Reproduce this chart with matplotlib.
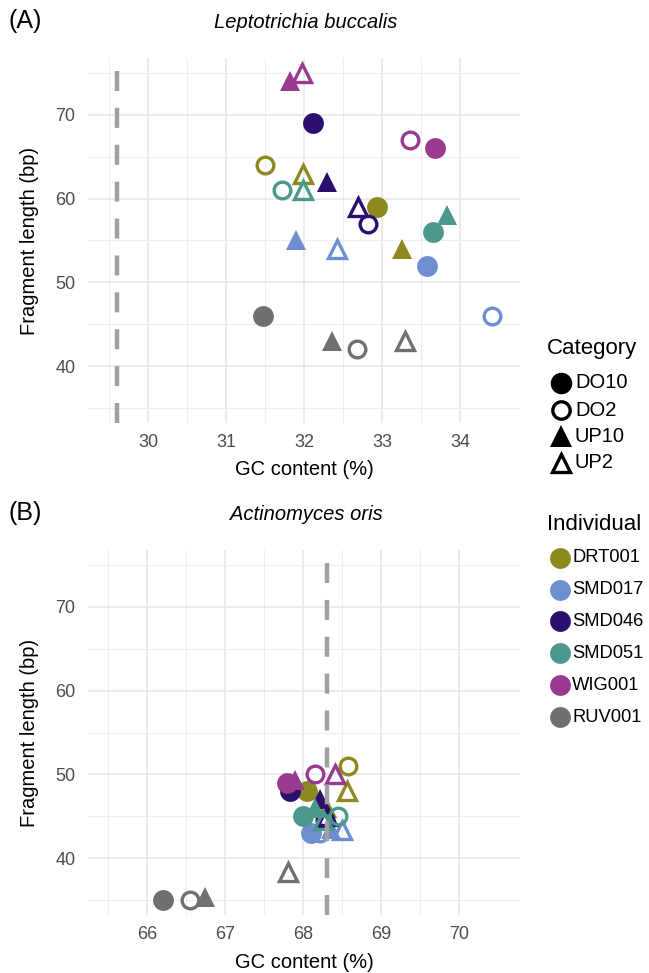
import matplotlib
matplotlib.use("Agg")
import matplotlib.pyplot as plt

plt.rcParams['font.family'] = ['Liberation Sans', 'DejaVu Sans']

individuals = ["DRT001", "SMD017", "SMD046", "SMD051", "WIG001", "RUV001"]
ind_colors = ["#8C8A1E", "#6D8FD0", "#2B0F6E", "#4A998C", "#983A8F", "#707070"]
categories = ["DO10", "DO2", "UP10", "UP2"]

# Panel A: Leptotrichia buccalis  (GC, length) per individual, category order DO10, DO2, UP10, UP2
a_gc = {
    "DRT001": [32.94, 31.50, 33.26, 31.99],
    "SMD017": [33.58, 34.41, 31.90, 32.42],
    "SMD046": [32.12, 32.82, 32.30, 32.69],
    "SMD051": [33.66, 31.72, 33.83, 31.99],
    "WIG001": [33.68, 33.36, 31.82, 31.97],
    "RUV001": [31.48, 32.68, 32.36, 33.30],
}
a_len = {
    "DRT001": [59, 64, 54, 63],
    "SMD017": [52, 46, 55, 54],
    "SMD046": [69, 57, 62, 59],
    "SMD051": [56, 61, 58, 61],
    "WIG001": [66, 67, 74, 75],
    "RUV001": [46, 42, 43, 43],
}
# Panel B: Actinomyces oris
b_gc = {
    "DRT001": [68.05, 68.58, 68.30, 68.56],
    "SMD017": [68.10, 68.22, 68.35, 68.50],
    "SMD046": [67.83, 68.28, 68.22, 68.30],
    "SMD051": [68.00, 68.45, 68.15, 68.25],
    "WIG001": [67.79, 68.15, 67.90, 68.41],
    "RUV001": [66.20, 66.55, 66.74, 67.80],
}
b_len = {
    "DRT001": [48, 51, 46, 48],
    "SMD017": [43, 43, 43.5, 43.3],
    "SMD046": [48, 44.5, 47, 45],
    "SMD051": [45, 45, 46, 44.5],
    "WIG001": [49, 50, 49.3, 50],
    "RUV001": [35, 35, 35.3, 38.3],
}
a_genome_gc = 29.6
b_genome_gc = 68.3
a_xticks = [30, 31, 32, 33, 34]
b_xticks = [66, 67, 68, 69, 70]
yticks = [40, 50, 60, 70]

W, H = 649, 973
fig = plt.figure(figsize=(W / 100, H / 100), dpi=100)

def fx(px):
    return px / W

def fy(py):
    return 1 - py / H

MS = 15.0  # marker size in points
EW = 2.4
TXT = 14.5


def draw_point(ax, x, y, cat, color, z, ms=MS):
    if cat == "DO10":
        ax.plot(x, y, marker='o', ms=ms, mfc=color, mec=color, mew=0, ls='none', zorder=z)
    elif cat == "DO2":
        ax.plot(x, y, marker='o', ms=ms - 3.0, mfc='none', mec=color, mew=EW, ls='none', zorder=z)
    elif cat == "UP10":
        ax.plot(x, y, marker='^', ms=ms, mfc=color, mec=color, mew=0, ls='none', zorder=z)
    else:
        ax.plot(x, y, marker='^', ms=ms - 2.0, mfc='none', mec=color, mew=EW, ls='none', zorder=z)


def panel(top_px, bottom_px, gc, ln, vline, xticks, xlim, title, tag):
    left_px, right_px = 88, 520
    ax = fig.add_axes([fx(left_px), fy(bottom_px), fx(right_px - left_px), (bottom_px - top_px) / H])
    ax.set_xticks(xticks)
    ax.set_xticks([t + 0.5 for t in range(int(xlim[0]), int(xlim[1]))], minor=True)
    ax.set_yticks(yticks)
    ax.set_yticks([35, 45, 55, 65, 75], minor=True)
    ax.set_xlim(*xlim)
    ax.set_ylim(33.2, 76.8)
    ax.grid(True, which='major', color='#E6E6E6', lw=1.1)
    ax.grid(True, which='minor', color='#EEEEEE', lw=0.8)
    ax.set_axisbelow(True)
    for s in ax.spines.values():
        s.set_visible(False)
    ax.tick_params(which='both', length=0, labelsize=13, labelcolor='#4D4D4D', pad=8)
    ax.tick_params(axis='y', pad=9)
    z = 3
    for ind, col in zip(individuals, ind_colors):
        for ci, cat in enumerate(categories):
            draw_point(ax, gc[ind][ci], ln[ind][ci], cat, col, z)
            z += 0.01
    ax.axvline(vline, color='#A0A0A0', lw=3.2, ls=(0, (4.5, 3.8)), zorder=10)
    fig.text(fx(304), fy(bottom_px + 47), "GC content (%)", fontsize=TXT, ha='center', va='center')
    fig.text(fx(30), fy((top_px + bottom_px) / 2), "Fragment length (bp)", fontsize=TXT,
             ha='center', va='center', rotation=90)
    fig.text(fx(306), fy(top_px - 36), title, fontsize=TXT, style='italic', ha='center', va='center')
    fig.text(fx(9), fy(top_px - 37), tag, fontsize=18, va='center', ha='left')
    return ax

panel(58, 423, a_gc, a_len, a_genome_gc, a_xticks, (29.23, 34.77), "Leptotrichia buccalis", "(A)")
panel(550, 915, b_gc, b_len, b_genome_gc, b_xticks, (65.24, 70.78), "Actinomyces oris", "(B)")

# Legends (manual, to place like the reference)
fig.text(fx(547), fy(349), "Category", fontsize=16, va='center', ha='left')
cat_y = [383, 410, 436, 463]
lax = fig.add_axes([0, 0, 1, 1], facecolor='none')
lax.set_xlim(0, W)
lax.set_ylim(H, 0)
lax.axis('off')
for cat, py in zip(categories, cat_y):
    draw_point(lax, 561, py, cat, 'black', 5, ms=15.5)
    fig.text(fx(575), fy(py), cat, fontsize=TXT, va='center', ha='left')

fig.text(fx(547), fy(525), "Individual", fontsize=16, va='center', ha='left')
ind_y = [558, 590, 621, 653, 685, 717]
for ind, col, py in zip(individuals, ind_colors, ind_y):
    lax.plot(560, py, marker='o', ms=15, mfc=col, mec=col, mew=0, ls='none')
    fig.text(fx(572), fy(py), ind, fontsize=13.2, va='center', ha='left')

fig.savefig("out.png", dpi=100)
